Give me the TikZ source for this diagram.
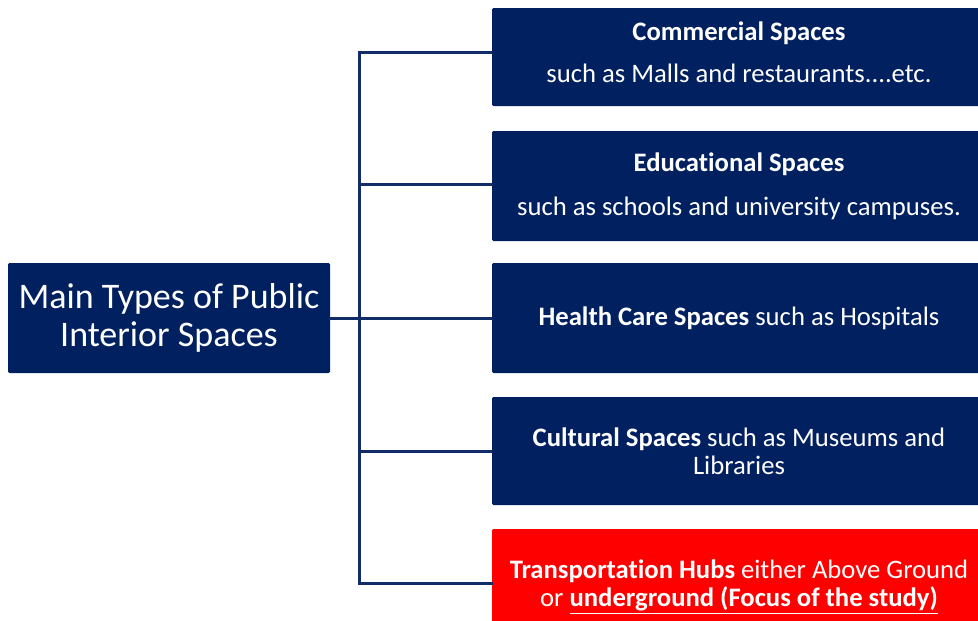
\documentclass[tikz,border=0pt]{standalone}
\usepackage{fontspec}
\setmainfont{Carlito}[Ligatures={NoCommon}]
\usetikzlibrary{positioning}

\definecolor{navy}{RGB}{0,32,96}
\definecolor{linknavy}{RGB}{18,44,104}
\definecolor{hubred}{RGB}{255,0,0}

\begin{document}
\begin{tikzpicture}[x=0.75pt,y=-0.75pt,
    every node/.append style={text=white,align=center,inner sep=0pt},
    box/.style={fill=navy,rounded corners=1pt,minimum width=370.5pt,minimum height=82.5pt,
                font=\fontsize{20}{21}\selectfont},
    link/.style={draw=linknavy,line width=2.25pt,line cap=rect}]
    \useasboundingbox (0,0) rectangle (978,621);
    \clip (0,0) rectangle (978,621);

    \node[box,fill=navy,minimum width=241.5pt,font=\fontsize{27}{28.5}\selectfont] (main) at (169,318)
        {Main Types of Public\\Interior Spaces};

    \node[box,minimum height=73.5pt] (commercial) at (739,57)
        {\raisebox{7.5pt}{\shortstack{\textbf{Commercial Spaces}\\[12pt]such as Malls and restaurants....etc.}}};
    \node[box] (educational) at (739,186)
        {\textbf{Educational Spaces}\\[12pt]such as schools and university campuses.};
    \node[box] (health) at (739,318)
        {\textbf{Health Care Spaces} such as Hospitals};
    \node[box,minimum height=81pt] (cultural) at (739,451)
        {\textbf{Cultural Spaces} such as Museums and\\Libraries};
    \node[box,fill=hubred,minimum height=87pt] (transport) at (739,587)
        {\textbf{Transportation Hubs} either Above Ground\\or \underline{\textbf{underground (Focus of the study)}}};

    % tree connectors
    \coordinate (fork) at (359,318);
    \draw[link] (main.east) -- (health.west);
    \draw[link] ([yshift=3.75pt]commercial.west) -| (fork) |- ([yshift=3pt]transport.west);
    \draw[link] ([yshift=1.5pt]educational.west) -- ([yshift=1.5pt]educational.west -| fork);
    \draw[link] (cultural.west) -- (cultural.west -| fork);
\end{tikzpicture}
\end{document}
